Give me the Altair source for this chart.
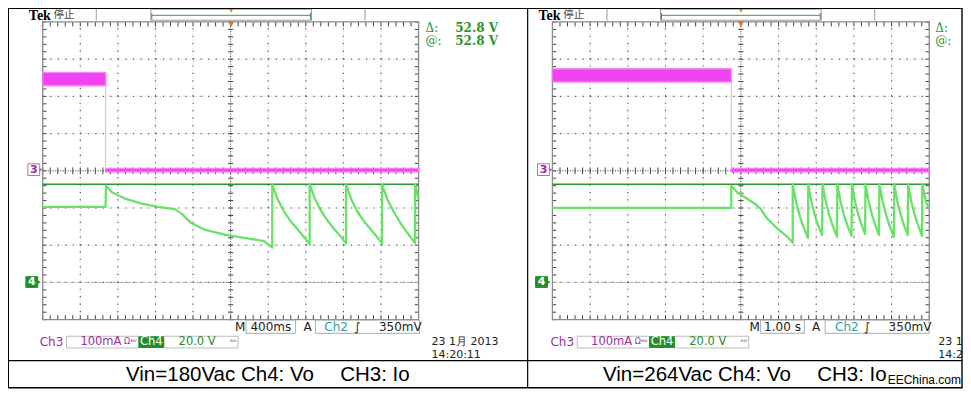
import altair as alt
import pandas as pd
import numpy as np

# ---------------- data read from the two scope captures ----------------
# Left capture: Vin = 180 Vac, 400 ms/div; Ch3 = Io (100 mA/div), Ch4 = Vo (20 V/div)
L_TIME_DOMAIN = [-2.0, 2.0]
L_IO_T = [-2.0, -1.33, -1.33, 2.0]
L_IO_LO = [229, 229, -3, -3]
L_IO_HI = [264, 264, 6, 6]
L_IO_SEG = ["on", "on", "off", "off"]
L_IO_EDGE = -1.33
L_VO_T = [-2.0, -1.33, -1.327, -1.263, -1.122, -0.947, -0.770, -0.594, -0.525, -0.419,
          -0.278, -0.066, 0.145, 0.356, 0.443,
          0.443, 0.497, 0.569, 0.642, 0.714, 0.786, 0.841,
          0.841, 0.894, 0.964, 1.035, 1.104, 1.174, 1.228,
          1.228, 1.281, 1.350, 1.420, 1.490, 1.560, 1.612,
          1.612, 1.665, 1.735, 1.800, 1.860, 1.920, 1.964,
          1.964, 2.0]
L_VO_V = [40.6, 40.6, 52.0, 48.5, 45.0, 42.4, 40.6, 39.4, 37.1, 31.9,
          28.4, 25.7, 24.0, 22.2, 18.7,
          52.8, 45.0, 38.0, 32.7, 28.4, 24.0, 20.5,
          52.8, 45.2, 38.3, 33.0, 28.6, 24.5, 21.0,
          52.8, 45.0, 38.0, 32.8, 28.6, 24.3, 21.0,
          52.8, 45.0, 38.0, 32.5, 28.0, 24.0, 21.2,
          52.8, 45.0]

# Right capture: Vin = 264 Vac, 1.00 s/div
R_TIME_DOMAIN = [-5.0, 5.0]
R_IO_T = [-5.0, -0.255, -0.255, 5.0]
R_IO_LO = [239, 239, -3, -3]
R_IO_HI = [274, 274, 6, 6]
R_IO_SEG = ["on", "on", "off", "off"]
R_IO_EDGE = -0.255
R_VO_T = [-5.0, -0.255, -0.255, -0.097, 0.166, 0.429, 0.518, 0.692, 0.955, 1.218, 1.376,
          1.376, 1.463, 1.551, 1.639, 1.779,
          1.789, 1.876, 1.964, 2.052, 2.156,
          2.166, 2.253, 2.341, 2.429, 2.551,
          2.561, 2.648, 2.736, 2.824, 2.937,
          2.947, 3.034, 3.122, 3.210, 3.297,
          3.307, 3.394, 3.482, 3.570, 3.666,
          3.676, 3.763, 3.851, 3.939, 4.061,
          4.071, 4.158, 4.246, 4.334, 4.429,
          4.439, 4.526, 4.614, 4.702, 4.806,
          4.816, 4.903, 5.0]
R_VO_V = [40.1, 40.1, 52.0, 48.5, 45.0, 41.5, 39.7, 34.5, 29.2, 24.8, 21.3,
          52.8, 43.5, 36.5, 31.0, 24.0,
          52.8, 43.0, 36.0, 30.5, 25.5,
          52.8, 43.5, 36.5, 31.0, 24.5,
          52.8, 43.2, 36.2, 30.8, 25.0,
          52.8, 43.0, 36.0, 30.5, 26.0,
          52.8, 43.2, 36.2, 30.8, 25.5,
          52.8, 43.5, 36.5, 31.0, 24.5,
          52.8, 43.0, 36.0, 30.5, 25.5,
          52.8, 43.2, 36.2, 30.8, 25.0,
          52.8, 44.0, 39.0]

CURSOR_V = 52.8
IO_DOMAIN = [-400, 400]      # 100 mA/div, ground at centre
VO_DOMAIN = [-20, 140]       # 20 V/div, ground 3 div below centre

# ---------------- layout helpers ----------------
W, H = 955, 381


def sx(X):
    return (X - 3.0) * W / 963.0


def sy(Y):
    return (Y - 3.0) * H / 390.0


ONE = pd.DataFrame({"k": [0]})
GY_TOP, GY_BOT = 17.3, 322.0

MAG = "#f042f0"
GRN = "#68e268"
CUR = "#2c962c"
PUR = "#9a2c9a"
TEAL = "#2a9fa5"


def txt(s, X, Y, size=12, color="#222", font="DejaVu Sans", weight="normal",
        align="left", baseline="middle"):
    return alt.Chart(ONE).mark_text(text=s, fontSize=size, color=color, font=font,
                                    fontWeight=weight, align=align, baseline=baseline).encode(
        x=alt.value(sx(X)), y=alt.value(sy(Y)))


def rule(X1, Y1, X2, Y2, color="#000", width=1.0, dash=None):
    kw = dict(color=color, strokeWidth=width)
    if dash:
        kw["strokeDash"] = dash
    return alt.Chart(ONE).mark_rule(**kw).encode(
        x=alt.value(sx(X1)), y=alt.value(sy(Y1)), x2=alt.value(sx(X2)), y2=alt.value(sy(Y2)))


def box(X1, Y1, X2, Y2, fill="white", stroke="#999", width=1.0, fop=1.0):
    return alt.Chart(ONE).mark_rect(fill=fill, fillOpacity=fop, stroke=stroke, strokeWidth=width).encode(
        x=alt.value(sx(X1)), y=alt.value(sy(Y1)), x2=alt.value(sx(X2)), y2=alt.value(sy(Y2)))


def tri(X, Y, shape, color, size):
    return alt.Chart(ONE).mark_point(shape=shape, filled=True, color=color, size=size, opacity=1).encode(
        x=alt.value(sx(X)), y=alt.value(sy(Y)))


def panel(gx0, gx1, tdom, io_t, io_lo, io_hi, io_seg, io_edge, vo_t, vo_v):
    xr = [sx(gx0), sx(gx1)]
    yr = [sy(GY_BOT), sy(GY_TOP)]
    XD = alt.Scale(domain=[-5, 5], range=xr, nice=False, zero=False)
    YD = alt.Scale(domain=[-4, 4], range=yr, nice=False, zero=False)
    TS = alt.Scale(domain=tdom, range=xr, nice=False, zero=False)
    IS = alt.Scale(domain=IO_DOMAIN, range=yr, nice=False, zero=False)
    VS = alt.Scale(domain=VO_DOMAIN, range=yr, nice=False, zero=False)
    stx = (xr[1] - xr[0]) / 50.0
    sty = (yr[0] - yr[1]) / 40.0
    layers = []

    inner_x = [-4, -3, -2, -1, 1, 2, 3, 4]
    inner_y = [-3, -2, -1, 1, 2, 3]
    vg = pd.DataFrame({"g": inner_x, "a": -4, "b": 4})
    hg = pd.DataFrame({"g": inner_y, "a": -5, "b": 5})
    # faint dotted gridlines
    layers.append(alt.Chart(vg).mark_rule(color="#d2d2d2", strokeWidth=1, strokeDash=[1, 2]).encode(
        x=alt.X("g:Q", scale=XD, axis=None), y=alt.Y("a:Q", scale=YD, axis=None), y2="b:Q"))
    layers.append(alt.Chart(hg).mark_rule(color="#d2d2d2", strokeWidth=1, strokeDash=[1, 2]).encode(
        y=alt.Y("g:Q", scale=YD, axis=None), x=alt.X("a:Q", scale=XD, axis=None), x2="b:Q"))
    # darker dots every 1/5 division
    layers.append(alt.Chart(vg).mark_rule(color="#555", strokeWidth=1.2, strokeDash=[1.2, sty - 1.2]).encode(
        x=alt.X("g:Q", scale=XD, axis=None), y=alt.Y("a:Q", scale=YD, axis=None), y2="b:Q"))
    layers.append(alt.Chart(hg).mark_rule(color="#555", strokeWidth=1.2, strokeDash=[1.2, stx - 1.2]).encode(
        y=alt.Y("g:Q", scale=YD, axis=None), x=alt.X("a:Q", scale=XD, axis=None), x2="b:Q"))
    # centre cross
    cx = pd.DataFrame({"x1": [0, -5], "x2": [0, 5], "y1": [-4, 0], "y2": [4, 0]})
    layers.append(alt.Chart(cx).mark_rule(color="#333", strokeWidth=1, strokeDash=[1, 1.5]).encode(
        x=alt.X("x1:Q", scale=XD, axis=None), x2="x2:Q",
        y=alt.Y("y1:Q", scale=YD, axis=None), y2="y2:Q"))
    # minor ticks on centre lines and frame
    mx = np.round(np.arange(-5, 5.001, 0.2), 3)
    my = np.round(np.arange(-4, 4.001, 0.2), 3)
    rows = []
    for v in my:
        rows.append((-0.07, 0.07, v, v))
        rows.append((-5, -4.9, v, v))
        rows.append((5, 4.9, v, v))
    for v in mx:
        rows.append((v, v, -0.09, 0.09))
        rows.append((v, v, -4, -3.88))
        rows.append((v, v, 4, 3.88))
    tk = pd.DataFrame(rows, columns=["x1", "x2", "y1", "y2"])
    layers.append(alt.Chart(tk).mark_rule(color="#444", strokeWidth=1).encode(
        x=alt.X("x1:Q", scale=XD, axis=None), x2="x2:Q",
        y=alt.Y("y1:Q", scale=YD, axis=None), y2="y2:Q"))
    # frame
    fr = pd.DataFrame({"x1": [-5], "x2": [5], "y1": [-4], "y2": [4]})
    layers.append(alt.Chart(fr).mark_rect(fillOpacity=0, stroke="#8a8a8a", strokeWidth=1.3).encode(
        x=alt.X("x1:Q", scale=XD, axis=None), x2="x2:Q",
        y=alt.Y("y1:Q", scale=YD, axis=None), y2="y2:Q"))
    # Ch4 ground reference (dashed) and cursor line
    gr = pd.DataFrame({"a": [-5], "b": [5], "v": [0.0]})
    layers.append(alt.Chart(gr).mark_rule(color="#a8a8a8", strokeWidth=1, strokeDash=[4, 3]).encode(
        x=alt.X("a:Q", scale=XD, axis=None), x2="b:Q", y=alt.Y("v:Q", scale=VS, axis=None)))
    cu = pd.DataFrame({"a": [-5], "b": [5], "v": [CURSOR_V]})
    layers.append(alt.Chart(cu).mark_rule(color=CUR, strokeWidth=1.5).encode(
        x=alt.X("a:Q", scale=XD, axis=None), x2="b:Q", y=alt.Y("v:Q", scale=VS, axis=None)))
    # Ch3 : Io  (noisy band drawn as its min/max envelope)
    io = pd.DataFrame({"t": io_t, "lo": io_lo, "hi": io_hi, "seg": io_seg})
    layers.append(alt.Chart(io).mark_area(color=MAG, opacity=1, stroke="#f27cf2", strokeWidth=1.6,
                                          strokeOpacity=0.8).encode(
        x=alt.X("t:Q", scale=TS, axis=None), y=alt.Y("lo:Q", scale=IS, axis=None), y2="hi:Q",
        detail="seg:N"))
    ed = pd.DataFrame({"t": [io_edge], "a": [io_hi[-1]], "b": [io_lo[0]]})
    layers.append(alt.Chart(ed).mark_rule(color="#f3a3f3", strokeWidth=1).encode(
        x=alt.X("t:Q", scale=TS, axis=None), y=alt.Y("a:Q", scale=IS, axis=None), y2="b:Q"))
    # Ch4 : Vo
    vo = pd.DataFrame({"t": vo_t, "v": vo_v, "i": list(range(len(vo_t)))})
    layers.append(alt.Chart(vo).mark_line(color=GRN, strokeWidth=2.3, strokeJoin="round").encode(
        x=alt.X("t:Q", scale=TS, axis=None), y=alt.Y("v:Q", scale=VS, axis=None), order="i:Q"))
    return layers


def decorations(o, tek_x, sep1, sep2, bx0, bx1, m_box, m_text, a_x, ch2_box, ch2_x, slope_x, mv_x,
                row2, date_text, time_text, date_x, show_values, delta_x):
    c = o + 228  # trigger x (reference coords)
    L = []
    L.append(txt("Tek", tek_x, 10.8, size=14, color="#000", font="Liberation Serif", weight="bold"))
    L.append(txt("停止", tek_x + 25, 10.6, size=10.5, color="#444", font="Noto Sans CJK SC"))
    L.append(rule(sep1, 3, sep1, 16, color="#999", width=1))
    L.append(rule(sep2, 3, sep2, 16, color="#999", width=1))
    L.append(box(bx0, 4.2, bx1, 15.5, fill="white", stroke="#9a9a9a", width=1))
    L.append(rule(bx0 + 1, 10.5, bx1 - 1, 10.5, color="#3c9c3c", width=1))
    L.append(rule(bx0 + 1, 8, bx0 + 1, 15, color="#3c9c3c", width=1))
    L.append(rule(bx1 - 1, 8, bx1 - 1, 15, color="#3c9c3c", width=1))
    L.append(tri(c, 5.5, "triangle-down", "#e07a24", 22))
    L.append(tri(c, 20, "triangle-down", "#e07a24", 30))
    # channel markers
    L.append(box(o + 23, 162.5, o + 35, 174.5, fill="white", stroke="#b070b0", width=1))
    L.append(tri(o + 36.5, 168.5, "triangle-right", "#b070b0", 14))
    L.append(txt("3", o + 29, 168.7, size=11, color=PUR, weight="bold", align="center"))
    L.append(box(o + 21, 278, o + 33, 289, fill="#1f8f2a", stroke="#1f8f2a", width=1))
    L.append(tri(o + 34.5, 283.5, "triangle-right", "#1f8f2a", 14))
    L.append(txt("4", o + 27, 283.7, size=11, color="white", weight="bold", align="center"))
    # Δ / @ readout
    L.append(txt("Δ:", delta_x, 23, size=12, color=CUR, font="DejaVu Serif"))
    L.append(txt("@:", delta_x, 37, size=12, color=CUR, font="DejaVu Serif"))
    if show_values:
        L.append(txt("52.8 V", delta_x + 30, 23, size=12, color=CUR, font="DejaVu Serif", weight="bold"))
        L.append(txt("52.8 V", delta_x + 30, 37, size=12, color=CUR, font="DejaVu Serif", weight="bold"))
    # timebase / trigger row
    L.append(txt("M", m_box[0] - 6, 329.5, size=12, color="#222", align="center"))
    L.append(box(m_box[0], 322.5, m_box[1], 336, fill="white", stroke="#aaa", width=1))
    L.append(txt(m_text, (m_box[0] + m_box[1]) / 2.0, 329.5, size=12, color="#222", align="center"))
    L.append(txt("A", a_x, 329.5, size=12, color="#222", align="center"))
    L.append(box(ch2_box[0], 322.5, ch2_box[1], 336, fill="white", stroke="#aaa", width=1))
    L.append(txt("Ch2", ch2_x, 329.5, size=12, color=TEAL))
    L.append(txt("∫", slope_x, 329.5, size=12, color="#222", align="center"))
    L.append(txt("350mV", mv_x, 329.5, size=12, color="#222"))
    # vertical scale row
    r = row2
    L.append(txt("Ch3", r + 35, 345, size=12, color=PUR))
    L.append(box(r + 62, 339, r + 135, 351, fill="white", stroke="#bbb", width=1))
    L.append(txt("100mA", r + 76, 345, size=11.5, color=PUR))
    L.append(txt("Ω", r + 120, 345, size=8, color=PUR))
    L.append(txt("ᴮᵂ", r + 126.5, 345, size=6, color=PUR))
    L.append(box(r + 160, 339, r + 235, 351, fill="white", stroke="#bbb", width=1))
    L.append(box(r + 135, 339.5, r + 160, 350.5, fill="#1f8f2a", stroke="#1f8f2a", width=1))
    L.append(txt("Ch4", r + 147.5, 345, size=11.5, color="white", align="center"))
    L.append(txt("20.0 V", r + 175, 345, size=11.5, color="#2a8a2a"))
    L.append(txt("ᴮᵂ", r + 227, 345, size=6, color="#2a8a2a"))
    # date / time
    L.append(txt(date_text, date_x, 345.3, size=11, color="#222"))
    L.append(txt(time_text, date_x, 357.8, size=11, color="#222"))
    return L


layers = []
layers += panel(38, 417, L_TIME_DOMAIN, L_IO_T, L_IO_LO, L_IO_HI, L_IO_SEG, L_IO_EDGE, L_VO_T, L_VO_V)
layers += panel(552, 932, R_TIME_DOMAIN, R_IO_T, R_IO_LO, R_IO_HI, R_IO_SEG, R_IO_EDGE, R_VO_T, R_VO_V)
layers += decorations(0, 24, 92, 363, 147, 309, (243, 293), "400ms", 305, (313, 418), 322, 355, 377,
                      0, "23 1月 2013", "14:20:11", 430, True, 424)
layers += decorations(514, 538, 607, 877, 661, 823, (762, 806), "1.00 s", 818, (827, 932), 837, 869, 891,
                      515, "23 1", "14:2", 941, False, 938)

# captions
CAP = dict(size=20.5, color="#000", font="Liberation Sans", baseline="alphabetic")
layers.append(txt("Vin=180Vac Ch4: Vo", 122, 385, **CAP))
layers.append(txt("CH3: Io", 338, 385, **CAP))
layers.append(txt("Vin=264Vac Ch4: Vo", 603, 385, **CAP))
layers.append(txt("CH3: Io", 819, 385, **CAP))
layers.append(txt("EEChina.com", 964, 388, size=12, color="#000", font="Liberation Sans",
                  baseline="alphabetic", align="right"))

# outer frame and dividers
layers.append(rule(3, 3.3, 965.5, 3.3, width=1.4))
layers.append(rule(3.3, 3, 3.3, 392, width=1.4))
layers.append(rule(965, 3, 965, 392, width=1.4))
layers.append(rule(3, 391.7, 965.5, 391.7, width=1.4))
layers.append(rule(527, 3, 527, 392, width=1.2))
layers.append(rule(3, 364, 965.5, 364, width=1.4))

chart = alt.layer(*layers).resolve_scale(x="independent", y="independent").properties(
    width=W, height=H, padding=0, autosize="none"
).configure_view(strokeWidth=0)

chart.save("out.html", embed_options={"renderer": "svg", "actions": False})
